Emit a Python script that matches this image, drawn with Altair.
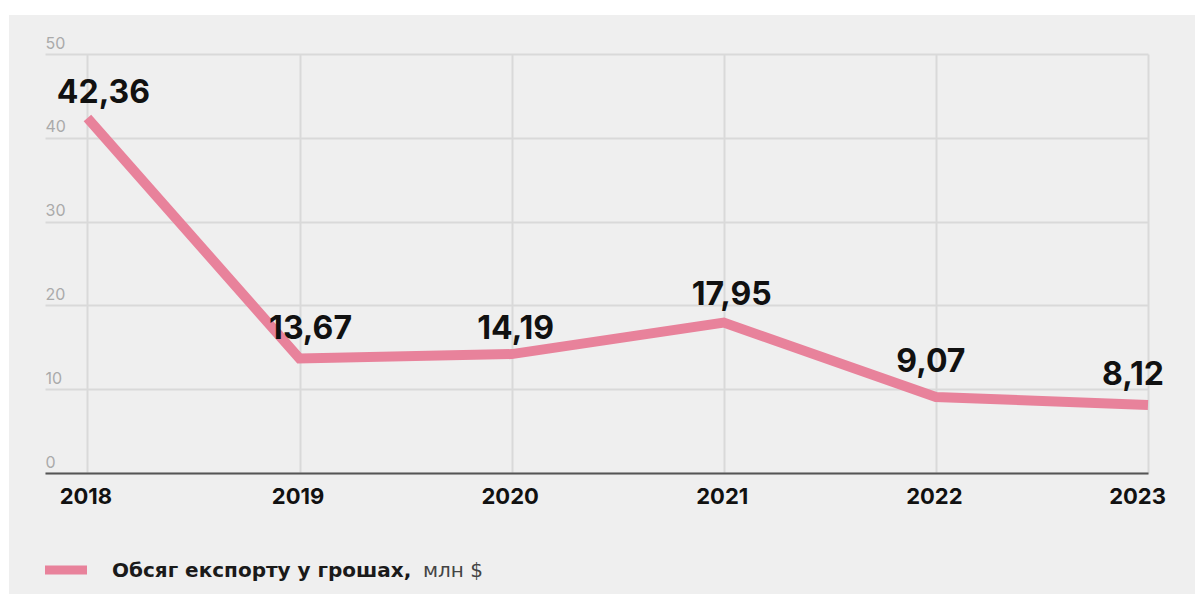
import altair as alt
import pandas as pd

years = [2018, 2019, 2020, 2021, 2022, 2023]
values = [42.36, 13.67, 14.19, 17.95, 9.07, 8.12]
y_ticks = [0, 10, 20, 30, 40, 50]
legend_bold = "Обсяг експорту у грошах,"
legend_unit = "млн $"

df = pd.DataFrame({"year": years, "value": values})

W, H = 1103, 419
PX_PER_YEAR = W / 5.2
PX_PER_UNIT = H / 50
PINK = "#e8829b"
FONT = "Inter"

x_scale = alt.Scale(domain=[2017.8, 2023], nice=False, zero=False)
y_scale = alt.Scale(domain=[0, 50], nice=False)

base = alt.Chart(df)
one = pd.DataFrame({"a": [0]})

# white margins at top and left (outside the grey card)
strip_left = alt.Chart(one).mark_rect(color="white", clip=False).encode(
    x=alt.value(-45), x2=alt.value(-36), y=alt.value(-54), y2=alt.value(540)
)
strip_top = alt.Chart(one).mark_rect(color="white", clip=False).encode(
    x=alt.value(-45), x2=alt.value(1150), y=alt.value(-54), y2=alt.value(-39)
)

line = base.mark_line(color=PINK, strokeWidth=10, strokeCap="butt", strokeJoin="miter").encode(
    x=alt.X("year:Q", scale=x_scale,
            axis=alt.Axis(values=years, format="d", title=None, grid=True, gridColor="#d9d9d9",
                          gridWidth=2, domainColor="#555555", domainWidth=2, ticks=False,
                          labelFont=FONT, labelFontSize=22, labelFontWeight="bold",
                          labelColor="#111111", labelPadding=13, labelBaseline="top",
                          labelFlush=False,
                          labelOffset={"condition": {"test": "datum.value == 2023", "value": -11},
                                       "value": -2})),
    y=alt.Y("value:Q", scale=y_scale,
            axis=alt.Axis(values=y_ticks, title=None, grid=True, gridColor="#d9d9d9",
                          gridWidth=2, domain=False, ticks=False, labelAlign="left",
                          labelBaseline="alphabetic", labelPadding=0, labelOffset=-6,
                          labelFont=FONT, labelFontSize=16, labelColor="#aaaaaa")),
)

labels = base.transform_calculate(
    label="replace(format(datum.value, '.2f'), '.', ',')",
    ox="datum.year==2018?16:datum.year==2019?11:datum.year==2020?4:datum.year==2021?8:datum.year==2022?-5:-15",
    oy="datum.year==2018?15:datum.year==2019?19:datum.year==2020?15:datum.year==2021?18:datum.year==2022?25:20",
).transform_calculate(
    lx=f"datum.year + datum.ox / {PX_PER_YEAR}",
    ly=f"datum.value + datum.oy / {PX_PER_UNIT}",
).mark_text(font=FONT, fontSize=32, fontWeight="bold", color="#111111",
            baseline="alphabetic", align="center").encode(
    x=alt.X("lx:Q", scale=x_scale),
    y=alt.Y("ly:Q", scale=y_scale),
    text="label:N",
)

swatch = alt.Chart(one).mark_rule(color=PINK, strokeWidth=9, strokeCap="butt").encode(
    x=alt.value(0), x2=alt.value(42), y=alt.value(516)
)
leg_t1 = alt.Chart(one).mark_text(text=legend_bold, font="DejaVu Sans", fontSize=20, fontWeight="bold",
                                  color="#1a1a1a", align="left", baseline="middle").encode(
    x=alt.value(67), y=alt.value(517)
)
leg_t2 = alt.Chart(one).mark_text(text=legend_unit, font="DejaVu Sans", fontSize=20,
                                  color="#444444", align="left", baseline="middle").encode(
    x=alt.value(378), y=alt.value(517)
)

chart = alt.layer(strip_left, strip_top, line, labels, swatch, leg_t1, leg_t2).properties(
    width=W, height=H,
    padding={"left": 45, "top": 54, "right": 47, "bottom": 121},
    autosize=alt.AutoSizeParams(type="none"),
    background="#efefef",
).configure_view(stroke=None)

chart.save("out.html", embed_options={"renderer": "svg", "actions": False})
